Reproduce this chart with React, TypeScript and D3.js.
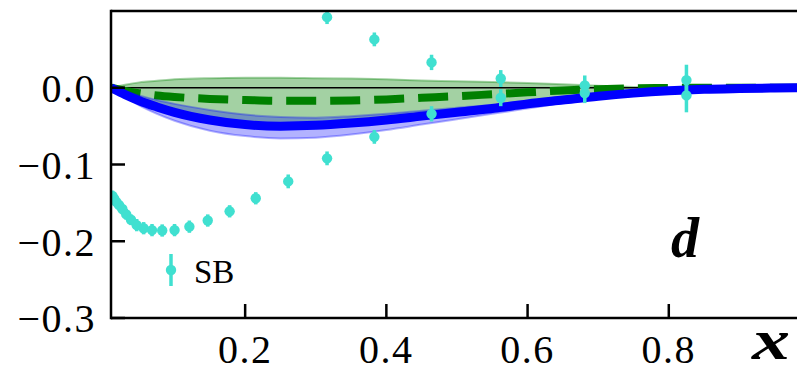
import React from "react";
import * as d3 from "d3";

// curve grid (x) shared by the model curves
const gridX = [0.01, 0.03, 0.05, 0.075, 0.1, 0.15, 0.2, 0.25, 0.3, 0.35, 0.4, 0.45, 0.5, 0.55, 0.6, 0.65, 0.7, 0.75, 0.8, 0.85, 0.9, 0.95, 1.0];

// green band + dashed central curve
const greenUpper = [0, 0.004, 0.007, 0.009, 0.011, 0.0125, 0.013, 0.013, 0.0125, 0.012, 0.011, 0.0095, 0.0085, 0.0075, 0.0062, 0.0045, 0.0025, 0.001, 0, 0, 0, 0, 0];
const greenLower = [0, -0.012, -0.021, -0.029, -0.035, -0.042, -0.045, -0.046, -0.046, -0.045, -0.042, -0.038, -0.033, -0.027, -0.021, -0.015, -0.01, -0.006, -0.003, -0.001, 0, 0, 0];
const greenMid = [0, -0.004, -0.007, -0.01, -0.012, -0.0145, -0.016, -0.017, -0.017, -0.0165, -0.0152, -0.013, -0.011, -0.0085, -0.006, -0.0035, -0.0018, -0.0008, -0.0003, 0, 0, 0, 0];

// blue ensemble + central line
const blueMid = [0, -0.009, -0.017, -0.025, -0.032, -0.042, -0.048, -0.05, -0.049, -0.046, -0.042, -0.037, -0.032, -0.027, -0.021, -0.016, -0.011, -0.007, -0.004, -0.002, -0.001, -0.0003, 0];
const blueUpper = [0, -0.005, -0.01, -0.016, -0.021, -0.029, -0.035, -0.038, -0.039, -0.037, -0.034, -0.03, -0.026, -0.022, -0.017, -0.013, -0.009, -0.006, -0.003, -0.0015, -0.0007, -0.0002, 0];
const blueLower = [0, -0.012, -0.023, -0.034, -0.043, -0.056, -0.063, -0.066, -0.065, -0.061, -0.055, -0.048, -0.041, -0.034, -0.027, -0.02, -0.014, -0.009, -0.005, -0.0025, -0.0012, -0.0004, 0];

// SB points, lower branch
const sbX = [0.0121, 0.0147, 0.0178, 0.0215, 0.0261, 0.0316, 0.0383, 0.0464, 0.0562, 0.0681, 0.0825, 0.1, 0.121, 0.147, 0.178, 0.215, 0.261, 0.316, 0.383, 0.464, 0.562, 0.681, 0.825];
const sbY = [-0.141, -0.145, -0.149, -0.153, -0.158, -0.165, -0.172, -0.179, -0.183, -0.1855, -0.186, -0.1855, -0.181, -0.173, -0.161, -0.144, -0.122, -0.092, -0.064, -0.034, -0.013, -0.007, -0.01];
const sbErr = [0.007, 0.007, 0.007, 0.007, 0.007, 0.007, 0.007, 0.008, 0.008, 0.008, 0.008, 0.008, 0.008, 0.008, 0.008, 0.008, 0.009, 0.009, 0.009, 0.01, 0.011, 0.013, 0.022];

// SB points, upper branch
const sbUpX = [0.316, 0.383, 0.464, 0.562, 0.681, 0.825];
const sbUpY = [0.092, 0.063, 0.033, 0.012, 0.003, 0.01];
const sbUpErr = [0.009, 0.009, 0.01, 0.011, 0.013, 0.02];

const xTicks = [0.2, 0.4, 0.6, 0.8];
const yTicks = [0.0, -0.1, -0.2, -0.3];

const W = 797;
const H = 372;
const left = 111;
const right = 810;
const top = 11;
const bottom = 318;

const TURQ = "#40E0D0";
const SERIF = "'Liberation Serif', 'Times New Roman', serif";

export default function App() {
  const x = d3.scaleLinear().domain([0.01, 1.0]).range([left, right]);
  const y = d3.scaleLinear().domain([-0.3, 0.1]).range([bottom, top]);

  const band = (lo: number[], hi: number[]) =>
    d3
      .area<number>()
      .x((_, i) => x(gridX[i]))
      .y0((_, i) => y(lo[i]))
      .y1((_, i) => y(hi[i]))
      .curve(d3.curveMonotoneX)(gridX);
  const line = (vals: number[]) =>
    d3
      .line<number>()
      .x((d) => x(d))
      .y((_, i) => y(vals[i]))
      .curve(d3.curveMonotoneX)(gridX);

  const fmt = (v: number) => (v < 0 ? "\u2212" : "") + Math.abs(v).toFixed(1);

  const points = [
    ...sbX.map((v, i) => ({ x: v, y: sbY[i], e: sbErr[i] })),
    ...sbUpX.map((v, i) => ({ x: v, y: sbUpY[i], e: sbUpErr[i] })),
  ];

  return (
    <svg
      width={W}
      height={H}
      style={{ position: "absolute", left: 0, top: 0, background: "#fff" }}
    >
      <defs>
        <clipPath id="plot">
          <rect x={left} y={top} width={right - left} height={bottom - top} />
        </clipPath>
      </defs>
      <rect width={W} height={H} fill="#fff" />

      <g clipPath="url(#plot)">
        <path d={band(greenLower, greenUpper) || ""} fill="green" fillOpacity={0.36} />
        <path d={line(greenUpper) || ""} fill="none" stroke="green" strokeOpacity={0.35} strokeWidth={2} />
        <line x1={left} x2={right} y1={y(0)} y2={y(0)} stroke="#000" strokeWidth={1.6} />
        <path
          d={line(greenMid) || ""}
          fill="none"
          stroke="green"
          strokeWidth={8}
          strokeDasharray="30,14"
        />
        <path d={band(blueLower, blueUpper) || ""} fill="blue" fillOpacity={0.3} />
        <path d={line(blueLower) || ""} fill="none" stroke="blue" strokeOpacity={0.3} strokeWidth={2} />
        <path d={line(blueUpper) || ""} fill="none" stroke="blue" strokeOpacity={0.3} strokeWidth={2} />
        <path d={line(blueMid) || ""} fill="none" stroke="blue" strokeWidth={9} />

        {points.map((p, i) => (
          <g key={i}>
            <line
              x1={x(p.x)}
              x2={x(p.x)}
              y1={y(p.y - p.e)}
              y2={y(p.y + p.e)}
              stroke={TURQ}
              strokeWidth={3.5}
            />
            <circle cx={x(p.x)} cy={y(p.y)} r={5.2} fill={TURQ} />
          </g>
        ))}
      </g>

      {/* frame */}
      <line x1={left} x2={right} y1={top} y2={top} stroke="#000" strokeWidth={2.5} />
      <line x1={left} x2={left} y1={top - 1.25} y2={bottom + 1.25} stroke="#000" strokeWidth={2.5} />
      <line x1={left} x2={right} y1={bottom} y2={bottom} stroke="#000" strokeWidth={2.5} />

      {/* y axis */}
      {yTicks.map((t) => (
        <g key={t}>
          <line x1={left} x2={left + 14} y1={y(t)} y2={y(t)} stroke="#000" strokeWidth={2.5} />
          <text
            x={96}
            y={y(t)}
            dy="0.36em"
            textAnchor="end"
            fontFamily={SERIF}
            fontSize={40}
            letterSpacing={1.5}
            fill="#000"
          >
            {fmt(t)}
          </text>
        </g>
      ))}

      {/* x axis */}
      {xTicks.map((t) => (
        <g key={t}>
          <line x1={x(t)} x2={x(t)} y1={bottom} y2={bottom - 14} stroke="#000" strokeWidth={2.5} />
          <text
            x={x(t)}
            y={363}
            textAnchor="middle"
            fontFamily={SERIF}
            fontSize={40}
            letterSpacing={1.5}
            fill="#000"
          >
            {t.toFixed(1)}
          </text>
        </g>
      ))}

      <text
        x={752}
        y={359}
        fontFamily={SERIF}
        fontWeight="bold"
        fontStyle="italic"
        fontSize={56}
        textLength={38}
        lengthAdjust="spacingAndGlyphs"
        fill="#000"
      >
        x
      </text>

      <text
        x={671}
        y={257}
        fontFamily={SERIF}
        fontWeight="bold"
        fontStyle="italic"
        fontSize={56}
        fill="#000"
      >
        d
      </text>

      {/* legend */}
      <line x1={171} x2={171} y1={254} y2={286} stroke={TURQ} strokeWidth={3.5} />
      <circle cx={171} cy={270} r={5.2} fill={TURQ} />
      <text x={194} y={283} fontFamily={SERIF} fontSize={33} fill="#000">
        SB
      </text>
    </svg>
  );
}
